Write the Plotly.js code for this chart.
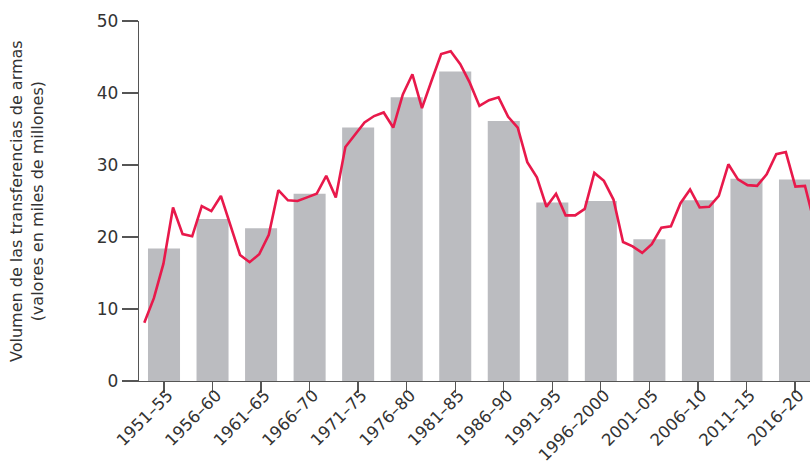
<!DOCTYPE html>
<html>
<head>
<meta charset="utf-8">
<script src="https://cdn.plot.ly/plotly-3.0.1.min.js"></script>
<style>
html,body{margin:0;padding:0;background:#fff;}
#chart{width:810px;height:468px;}
</style>
</head>
<body>
<div id="chart"></div>
<script>
// Five-year periods (bars)
const periods = ["1951–55","1956–60","1961–65","1966–70","1971–75","1976–80","1981–85",
                 "1986–90","1991–95","1996–2000","2001–05","2006–10","2011–15","2016–20"];
const periodValues = [18.4, 22.5, 21.2, 26.0, 35.2, 39.4, 43.0, 36.1, 24.8, 25.0, 19.7, 25.1, 28.1, 28.0];

// Annual values (line), 1950–2020
const years = [];
for (let y = 1950; y <= 2020; y++) years.push(y);
const annualValues = [
  8.1, 11.5, 16.3, 24.1, 20.4, 20.1, 24.3, 23.6, 25.7, 21.7,
  17.5, 16.5, 17.6, 20.3, 26.5, 25.1, 25.0, 25.5, 26.0, 28.5,
  25.5, 32.5, 34.2, 35.9, 36.8, 37.3, 35.2, 39.8, 42.6, 37.9,
  41.7, 45.4, 45.8, 44.0, 41.4, 38.2, 39.0, 39.4, 36.7, 35.2,
  30.4, 28.3, 24.2, 26.0, 23.0, 23.0, 23.9, 28.9, 27.8, 25.2,
  19.3, 18.7, 17.8, 19.0, 21.3, 21.5, 24.7, 26.6, 24.1, 24.2,
  25.7, 30.1, 28.0, 27.2, 27.1, 28.7, 31.5, 31.8, 27.0, 27.1,
  21.8
];
const yTicks = [0, 10, 20, 30, 40, 50];
const yTitle = "Volumen de las transferencias de armas<br>(valores en miles de millones)";

const FONT = "DejaVu Sans";
const axisColor = "#555555";
const textColor = "#333333";

const traces = [
  {
    type: "bar",
    x: periods,
    y: periodValues,
    width: 0.66,
    marker: {color: "#bbbcc0", line: {width: 0}},
    hoverinfo: "skip",
    xaxis: "x",
    yaxis: "y"
  },
  {
    type: "scatter",
    mode: "lines",
    x: years,
    y: annualValues,
    line: {color: "#e8194b", width: 2.6},
    hoverinfo: "skip",
    xaxis: "x2",
    yaxis: "y"
  }
];

const layout = {
  width: 810,
  height: 468,
  margin: {l: 139, r: 0, t: 21, b: 87, pad: 0},
  paper_bgcolor: "#ffffff",
  plot_bgcolor: "#ffffff",
  showlegend: false,
  font: {family: FONT, color: textColor, size: 16},
  xaxis: {
    type: "category",
    range: [-0.515, 13.309],
    tickangle: -45,
    ticks: "outside",
    ticklen: 11,
    tickwidth: 1.3,
    tickcolor: axisColor,
    ticklabelstandoff: -14,
    ticklabelshift: 4,
    showline: true,
    linecolor: axisColor,
    linewidth: 1.3,
    showgrid: false,
    zeroline: false,
    fixedrange: true,
    tickfont: {family: FONT, size: 16.5, color: textColor},
    automargin: false
  },
  xaxis2: {
    type: "linear",
    overlaying: "x",
    anchor: "y",
    range: [1949.446, 2019.525],
    visible: false,
    showgrid: false,
    zeroline: false,
    fixedrange: true
  },
  yaxis: {
    range: [0, 50],
    tickvals: yTicks,
    ticks: "outside",
    ticklen: 16,
    tickwidth: 1.3,
    tickcolor: axisColor,
    showline: true,
    linecolor: axisColor,
    linewidth: 1.3,
    showgrid: false,
    zeroline: false,
    fixedrange: true,
    tickfont: {family: FONT, size: 17, color: textColor},
    automargin: false
  },
  annotations: [
    {
      text: yTitle,
      xref: "paper",
      yref: "paper",
      x: -0.1669,
      y: 0.5,
      xanchor: "center",
      yanchor: "middle",
      textangle: -90,
      showarrow: false,
      font: {family: FONT, size: 16, color: textColor}
    }
  ]
};

Plotly.newPlot("chart", traces, layout, {displayModeBar: false, staticPlot: true});
</script>
</body>
</html>
